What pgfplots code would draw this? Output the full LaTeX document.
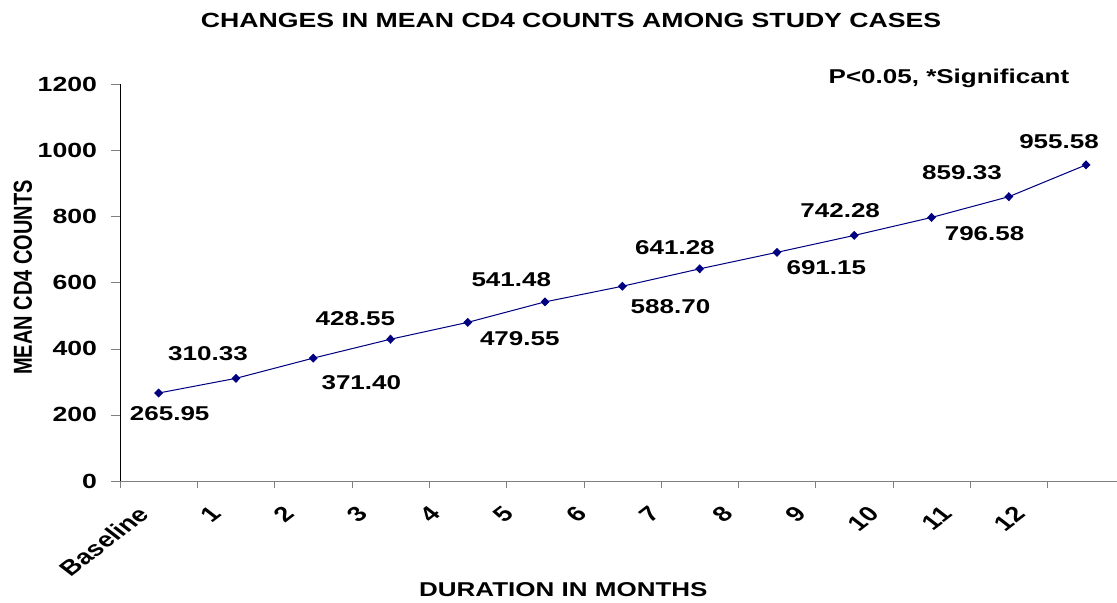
\documentclass[border=0pt]{standalone}
\usepackage{fontspec}
\setmainfont{Liberation Sans}
\usepackage{graphicx}
\usepackage{pgfplots}
\pgfplotsset{compat=1.18}
\usepackage{pgfplotstable}

\definecolor{navyline}{RGB}{0,0,128}

% mean CD4 counts; dx/dy = offset of the value label in pt
\pgfplotstableread{
x  y      lab     dx     dy
0  265.95 265.95  8.5   -21
1  310.33 310.33 -21.5   25
2  371.40 371.40  37    -24
3  428.55 428.55 -27     21
4  479.55 479.55  40    -16
5  541.48 541.48 -26     22
6  588.70 588.70  37    -20
7  641.28 641.28 -19     21
8  691.15 691.15  38    -15
9  742.28 742.28 -10.8   25
10 796.58 796.58  40.8  -16
11 859.33 859.33 -36     24
12 955.58 955.58 -20.8   23
}\cdtable

\newcommand{\lbl}{\bfseries\fontsize{20}{24}\selectfont}

\begin{document}
\scalebox{1.3}[1]{%
\begin{tikzpicture}
\begin{axis}[
    name=ax,
    at={(0,0)}, anchor=south west,
    scale only axis,
    width=766.9pt, height=397pt,
    xmin=-0.5, xmax=12.4,
    ymin=0, ymax=1200,
    axis lines=left,
    axis line style={-},
    x axis line style={draw=gray},
    tick align=outside,
    major tick length=7pt,
    xtick={-0.5,0.5,...,11.5},
    xticklabels={},
    extra x ticks={-0.292,0.654,1.599,2.545,3.491,4.437,5.382,6.328,7.274,8.219,9.165,10.111,11.056},
    extra x tick labels={Baseline,1,2,3,4,5,6,7,8,9,10,11,12},
    extra x tick style={major tick length=0pt,
        xticklabel style={anchor=north east, inner sep=0pt, yshift=-24pt, rotate=45,
            font=\bfseries\fontsize{21}{25}\selectfont}},
    ytick={0,200,...,1200},
    yticklabel style={anchor=east, inner sep=0pt, xshift=-10.5pt},
    tick label style={font=\bfseries\fontsize{20.5}{24}\selectfont},
    /pgf/number format/1000 sep={},
    /pgf/number format/assume math mode=true,
    title={CHANGES IN MEAN CD4 COUNTS AMONG STUDY CASES},
    title style={at={(rel axis cs:0.4525,1.145)}, anchor=center, yshift=0pt,
        font=\bfseries\fontsize{20.5}{24}\selectfont},
    xlabel={DURATION IN MONTHS},
    xlabel style={at={(rel axis cs:0.4447,-0.2746)}, anchor=center, font=\lbl},
    ylabel={MEAN CD4 COUNTS},
    ylabel style={at={(rel axis cs:-0.0973,0.5126)}, anchor=center, rotate=0, font=\lbl},
    clip=false,
]
\addplot[navyline, line width=1pt, mark=diamond*, mark size=3.7pt,
    mark options={fill=navyline},
    nodes near coords,
    point meta=explicit symbolic,
    visualization depends on={\thisrow{dx} \as \dx},
    visualization depends on={\thisrow{dy} \as \dy},
    every node near coord/.append style={anchor=center, inner sep=0pt,
        xshift=\dx pt, yshift=\dy pt, text=black, font=\lbl}]
    table[x=x, y=y, meta=lab] {\cdtable};
\node[font=\lbl, anchor=center] at (rel axis cs:0.8315,1.0139) {P<0.05, *Significant};
\end{axis}
\pgfresetboundingbox
\path ([shift={(-92.3pt,-121pt)}]ax.south west) rectangle ([shift={(0pt,84pt)}]ax.north east);
\end{tikzpicture}}
\end{document}
